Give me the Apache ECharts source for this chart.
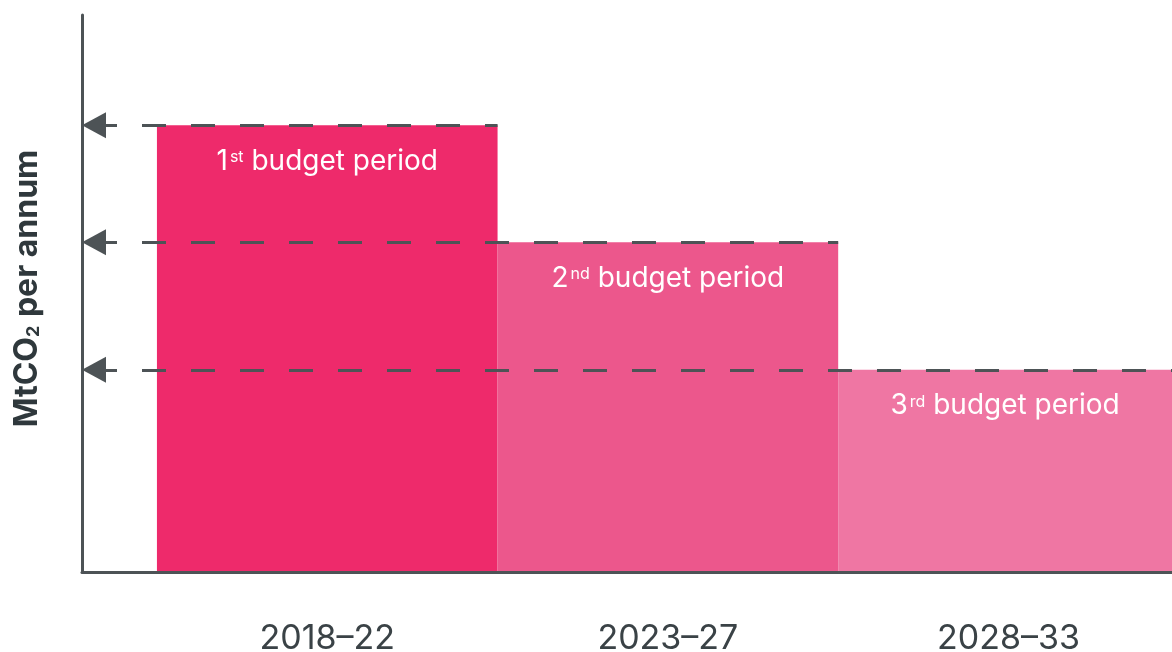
<!DOCTYPE html>
<html>
<head>
<meta charset="utf-8">
<script src="https://cdn.jsdelivr.net/npm/echarts@6/dist/echarts.min.js"></script>
<style>
  html, body { margin: 0; padding: 0; background: #ffffff; }
  #chart { width: 1172px; height: 652px; }
</style>
</head>
<body>
<div id="chart"></div>
<script>
// Budget periods and their annual emission budgets (MtCO2 per annum, no scale shown)
const periods = ['2018–22', '2023–27', '2028–33'];
const ordinals = ['1', '2', '3'];
const ordinalSuffixes = ['st', 'nd', 'rd'];
const budgets = [80.2, 59.2, 36.3];

// Styling
const barColors = ['#EE2A6B', '#EC578C', '#EF76A3'];
const AXIS_COLOR = '#4d5356';
const TEXT_COLOR = '#3a4246';
const FONT = 'Inter, Roboto, sans-serif';

// The x axis is a continuous period index; each period occupies one unit.
const X_MIN = -0.22;
const X_MAX = 2.98;

const chart = echarts.init(document.getElementById('chart'), null, { renderer: 'canvas' });

chart.setOption({
  animation: false,
  grid: { left: 82, right: 0, top: 15, bottom: 80, outerBoundsMode: 'none', containLabel: false },
  xAxis: {
    type: 'value',
    min: X_MIN,
    max: X_MAX,
    z: 5,
    axisLine: { show: true, onZero: false, lineStyle: { color: AXIS_COLOR, width: 3 } },
    axisTick: { show: false },
    splitLine: { show: false },
    axisLabel: {
      customValues: periods.map((_, i) => i + 0.5),
      formatter: (v) => periods[Math.floor(v)],
      margin: 50,
      fontSize: 34,
      fontFamily: FONT,
      color: TEXT_COLOR
    }
  },
  yAxis: {
    type: 'value',
    min: 0,
    max: 100,
    z: 5,
    axisLine: { show: true, onZero: false, lineStyle: { color: AXIS_COLOR, width: 3 } },
    axisTick: { show: false },
    axisLabel: { show: false },
    splitLine: { show: false },
    name: 'MtCO{sub|2} per annum',
    nameLocation: 'middle',
    nameGap: 39,
    nameTextStyle: {
      fontSize: 32,
      fontWeight: 'bold',
      fontFamily: FONT,
      color: '#2f383c',
      padding: [0, 0, 0, 10],
      rich: {
        sub: {
          fontSize: 18,
          fontWeight: 'bold',
          fontFamily: FONT,
          color: '#2f383c',
          verticalAlign: 'bottom',
          padding: [10, 1, 0, 0]
        }
      }
    }
  },
  series: [{
    type: 'custom',
    data: budgets.map((v, i) => [i, v]),
    encode: { x: 0, y: 1 },
    clip: true,
    renderItem: function (params, api) {
      const i = api.value(0);
      const v = api.value(1);
      const topLeft = api.coord([i, v]);
      const bottomRight = api.coord([i + 1, 0]);
      const cs = params.coordSys;
      const rect = echarts.graphic.clipRectByRect(
        { x: topLeft[0], y: topLeft[1], width: bottomRight[0] - topLeft[0], height: bottomRight[1] - topLeft[1] },
        { x: cs.x, y: cs.y, width: cs.width, height: cs.height + 3 }
      );
      return {
        type: 'rect',
        shape: rect,
        style: { fill: barColors[i] },
        textContent: {
          style: {
            text: '{n|' + ordinals[i] + '}{sup|' + ordinalSuffixes[i] + '}{n| budget period}',
            fill: '#ffffff',
            rich: {
              n: { fontSize: 28, fontFamily: FONT, fill: '#ffffff', lineHeight: 34 },
              sup: { fontSize: 16, fontFamily: FONT, fill: '#ffffff', lineHeight: 20, verticalAlign: 'top', padding: [5, 0, 0, 2] }
            }
          }
        },
        textConfig: { position: 'insideTop', distance: 19 }
      };
    },
    markLine: {
      silent: true,
      animation: false,
      symbol: ['triangle', 'none'],
      symbolSize: [26, 24],
      label: { show: false },
      lineStyle: { color: AXIS_COLOR, width: 3, type: [24, 25], dashOffset: 38, opacity: 1 },
      emphasis: { disabled: true },
      data: budgets.map((v, i) => [
        { coord: [X_MIN, v], symbolOffset: [0, 12] },
        { coord: [Math.min(i + 1, X_MAX), v] }
      ])
    }
  }]
});
</script>
</body>
</html>
